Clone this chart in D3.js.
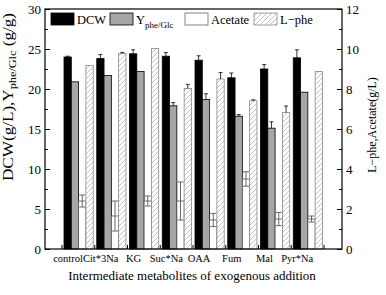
<!DOCTYPE html>
<html><head><meta charset="utf-8">
<script src="https://cdn.jsdelivr.net/npm/d3@7"></script>
<style>body{margin:0;background:#fff}svg{display:block}svg text{font-family:"Liberation Serif","Times New Roman",Times,serif !important;fill:#000}</style>
</head><body>
<script>
const categories = ["control","Cit*3Na","KG","Suc*Na","OAA","Fum","Mal","Pyr*Na"];
const dcw      = [24.0, 23.8, 24.4, 24.1, 23.6, 21.4, 22.5, 23.9];
const dcwErr   = [0.1, 0.5, 0.5, 0.45, 0.55, 0.6, 0.55, 1.0];
const yieldV   = [20.9, 21.7, 22.2, 17.9, 18.7, 16.6, 15.1, 19.6];
const yieldErr = [0, 0, 0, 0.4, 0.7, 0.2, 0.8, 0];
const acetate  = [2.4, 1.65, 2.4, 2.4, 1.45, 3.5, 1.5, 1.5];
const acetateErr = [0.3, 0.75, 0.25, 0.95, 0.33, 0.36, 0.33, 0.15];
const lphe     = [9.18, 9.78, 10.03, 8.03, 8.5, 7.41, 6.83, 8.87];
const lpheErr  = [0, 0.05, 0, 0.2, 0.32, 0.05, 0.32, 0];
const leftTicks = [0,5,10,15,20,25,30];
const rightTicks = [0,2,4,6,8,10,12];

const FF='"Liberation Serif","Times New Roman",Times,serif';
const W=386,H=295;
const L=45,R=342,T=9,B=249;
const svg=d3.select("body").append("svg").attr("width",W).attr("height",H).attr("font-family",FF);
const defs=svg.append("defs");
const pat=defs.append("pattern").attr("id","hatch").attr("patternUnits","userSpaceOnUse").attr("width",5).attr("height",5);
pat.append("rect").attr("width",5).attr("height",5).attr("fill","#fff");
pat.append("path").attr("d","M-1,1 L1,-1 M0,5 L5,0 M4,6 L6,4").attr("stroke","#b5b5b5").attr("stroke-width",0.8);

const x=d3.scaleBand().domain(categories).range([62,324]).paddingInner(0).paddingOuter(0);
const series=["dcw","yield","acetate","lphe"];
const xs=d3.scaleBand().domain(series).range([2,31.2]);
const yL=d3.scaleLinear().domain([0,30]).range([B,T]);
const yR=d3.scaleLinear().domain([0,12]).range([B,T]);

const defsS={
  dcw:{vals:dcw,err:dcwErr,y:yL,fill:"#000",stroke:"#000",both:false,cap:2},
  yield:{vals:yieldV,err:yieldErr,y:yL,fill:"#a6a6a6",stroke:"#000",both:false,cap:2},
  acetate:{vals:acetate,err:acetateErr,y:yR,fill:"#fff",stroke:"#555",both:true,cap:3},
  lphe:{vals:lphe,err:lpheErr,y:yR,fill:"url(#hatch)",stroke:"#888",both:false,cap:2}
};
const g=svg.append("g");
series.forEach(s=>{
  const d=defsS[s];
  categories.forEach((c,i)=>{
    const x0=x(c)+xs(s), w=xs.bandwidth();
    const yt=d.y(d.vals[i]);
    g.append("rect").attr("x",x0).attr("y",yt).attr("width",w).attr("height",B-yt)
      .attr("fill",d.fill).attr("stroke",d.stroke).attr("stroke-width",0.8);
  });
});
series.forEach(s=>{
  const d=defsS[s];
  categories.forEach((c,i)=>{
    if(!d.err[i]) return;
    const cx=x(c)+xs(s)+xs.bandwidth()/2;
    const yt=d.y(d.vals[i]+d.err[i]);
    const yb=d.both?d.y(d.vals[i]-d.err[i]):d.y(d.vals[i]);
    const col=s==="acetate"?"#444":"#000";
    g.append("line").attr("x1",cx).attr("x2",cx).attr("y1",yt).attr("y2",yb).attr("stroke",col).attr("stroke-width",0.8);
    g.append("line").attr("x1",cx-d.cap).attr("x2",cx+d.cap).attr("y1",yt).attr("y2",yt).attr("stroke",col).attr("stroke-width",0.8);
    if(d.both) g.append("line").attr("x1",cx-d.cap).attr("x2",cx+d.cap).attr("y1",yb).attr("y2",yb).attr("stroke",col).attr("stroke-width",0.8);
  });
});

svg.append("rect").attr("x",L).attr("y",T).attr("width",R-L).attr("height",B-T).attr("fill","none").attr("stroke","#000").attr("stroke-width",1.2);

const la=svg.append("g").attr("transform",`translate(${L},0)`)
  .call(d3.axisLeft(yL).tickValues(leftTicks).tickSize(-5).tickPadding(4).tickFormat(d3.format("d")));
la.attr("font-family",FF).select(".domain").remove();
la.selectAll("text").attr("font-size",13);
svg.append("g").attr("transform",`translate(${L},0)`)
  .call(d3.axisLeft(yL).tickValues(d3.range(2.5,30,5)).tickSize(-3).tickFormat("")).select(".domain").remove();
const ra=svg.append("g").attr("transform",`translate(${R},0)`)
  .call(d3.axisRight(yR).tickValues(rightTicks).tickSize(-5).tickPadding(4).tickFormat(d3.format("d")));
ra.attr("font-family",FF).select(".domain").remove();
ra.selectAll("text").attr("font-size",13);
svg.append("g").attr("transform",`translate(${R},0)`)
  .call(d3.axisRight(yR).tickValues(d3.range(1,12,2)).tickSize(-3).tickFormat("")).select(".domain").remove();
const bt=svg.append("g").attr("transform",`translate(0,${B})`)
  .call(d3.axisBottom(x).tickValues(categories).tickSize(-4).tickFormat(""));
bt.select(".domain").remove();
bt.selectAll(".tick").attr("transform",c=>`translate(${x(c)},0)`);
svg.append("line").attr("x1",x.range()[1]).attr("x2",x.range()[1]).attr("y1",B).attr("y2",B-4).attr("stroke","#000");

svg.append("g").selectAll("text").data(categories).join("text")
  .attr("x",c=>x(c)+6).attr("y",262).attr("text-anchor","middle")
  .attr("font-size",10.5).text(c=>c);
svg.append("text").attr("x",192).attr("y",280).attr("text-anchor","middle").attr("font-size",13)
  .text("Intermediate metabolites of exogenous addition");

const lt=svg.append("text").attr("transform",`translate(13,97) rotate(-90)`).attr("text-anchor","middle").attr("font-size",14)
  .attr("textLength",168).attr("lengthAdjust","spacingAndGlyphs");
lt.append("tspan").text("DCW(g/L),Y");
lt.append("tspan").attr("font-size",10).attr("dy",3).text("phe/Glc");
lt.append("tspan").attr("dy",-3).text(" (g/g)");
svg.append("text").attr("transform",`translate(376,125) rotate(-90)`).attr("text-anchor","middle").attr("font-size",12)
  .text("L\u2212phe,Acetate(g/L)");

const leg=[{k:"dcw",x:51,label:"DCW"},{k:"yield",x:110,label:"Y"},{k:"acetate",x:185,label:"Acetate"},{k:"lphe",x:254,label:"L\u2212phe"}];
leg.forEach(l=>{
  const d=defsS[l.k];
  svg.append("rect").attr("x",l.x).attr("y",13).attr("width",23).attr("height",12)
    .attr("fill",d.fill).attr("stroke",l.k==="lphe"?"#888":(l.k==="acetate"?"#666":"#000")).attr("stroke-width",0.8);
  const t=svg.append("text").attr("x",l.x+26).attr("y",24).attr("font-size",12.5);
  t.append("tspan").text(l.label);
  if(l.k==="yield") t.append("tspan").attr("font-size",9).attr("dy",4).text("phe/Glc");
});
</script>
</body></html>
